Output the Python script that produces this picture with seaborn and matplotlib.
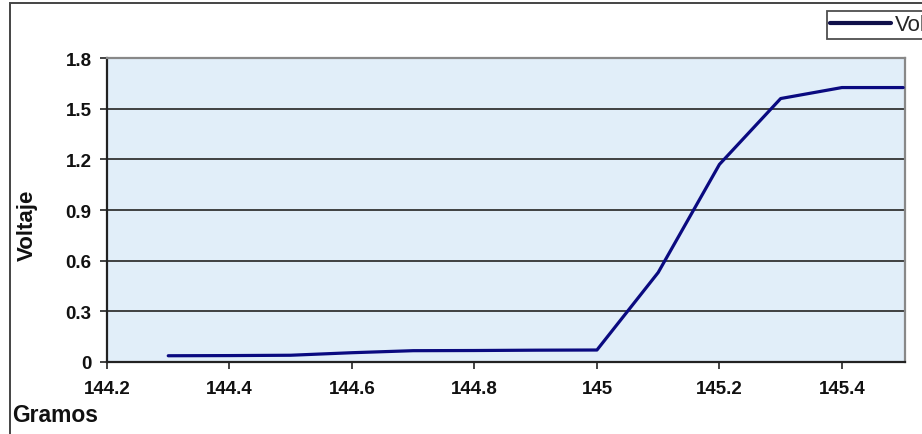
import matplotlib
matplotlib.use("Agg")
import matplotlib.pyplot as plt
from matplotlib.patches import Rectangle
from matplotlib.ticker import FuncFormatter
import seaborn as sns
import pandas as pd

# Measurements: mass (g) vs. sensor voltage (V)
gramos = [144.3, 144.4, 144.5, 144.6, 144.7, 144.8, 144.9, 145.0, 145.1, 145.2, 145.3, 145.4, 145.5]
voltaje = [0.037, 0.038, 0.040, 0.055, 0.067, 0.068, 0.070, 0.071, 0.53, 1.17, 1.56, 1.625, 1.625]

x_ticks = [144.2, 144.4, 144.6, 144.8, 145.0, 145.2, 145.4]
y_ticks = [0, 0.3, 0.6, 0.9, 1.2, 1.5, 1.8]
series_name = "Voltaje"

df = pd.DataFrame({"Gramos": gramos, "Voltaje": voltaje})

sns.set_style("white")
plt.rcParams["font.family"] = ["Liberation Sans", "DejaVu Sans"]

W, H = 922, 435
fig = plt.figure(figsize=(W / 100, H / 100), dpi=100)
fig.patch.set_facecolor("white")

# Outer chart frame (extends past the right and bottom edges)
fig.patches.append(Rectangle((10 / W, -0.05), 1.1, 1 - 4 / H + 0.05,
                             transform=fig.transFigure, fill=False,
                             edgecolor="#444444", linewidth=1.4, zorder=0))

ax = fig.add_axes([107 / W, 1 - 363 / H, (905 - 107) / W, (363 - 59) / H])
ax.set_facecolor("#e1eef9")

sns.lineplot(data=df, x="Gramos", y="Voltaje", ax=ax, color="#0a0a80",
             linewidth=2.3, label=series_name, zorder=3)

ax.set_xlim(144.2, 145.503)
ax.set_ylim(0, 1.8)
ax.set_xticks(x_ticks)
ax.set_yticks(y_ticks)
fmt = FuncFormatter(lambda v, p: f"{v:g}")
ax.xaxis.set_major_formatter(fmt)
ax.yaxis.set_major_formatter(fmt)

for lbl in ax.get_xticklabels() + ax.get_yticklabels():
    lbl.set_fontweight("bold")
    lbl.set_fontsize(13.5)
    lbl.set_color("#111111")

ax.tick_params(axis="both", which="both", direction="out", length=5,
               width=1.2, color="#222222", bottom=True, left=True)
ax.tick_params(axis="x", pad=8)
ax.tick_params(axis="y", pad=6)

ax.yaxis.grid(True, color="#333333", linewidth=1.3)
ax.xaxis.grid(False)
ax.set_axisbelow(True)

for side in ("left", "bottom"):
    ax.spines[side].set_color("#222222")
    ax.spines[side].set_linewidth(1.6)
for side in ("top", "right"):
    ax.spines[side].set_color("#888888")
    ax.spines[side].set_linewidth(1.6)

ax.set_xlabel("")
ax.set_ylabel("")
fig.text(27 / W, 1 - 225 / H, "Voltaje", rotation=90, ha="center", va="center",
         fontsize=16, fontweight="bold", color="#111111")
fig.text(12 / W, 1 - 422 / H, "Gramos", ha="left", va="baseline",
         fontsize=16.5, fontweight="bold", color="#111111")

# Legend box, partly beyond the right edge
ax.get_legend().remove()
leg = fig.legend(loc="upper left", bbox_to_anchor=(827 / W, 1 - 12 / H),
                 frameon=True, fancybox=False, fontsize=16,
                 handlelength=2.75, handletextpad=0.15, borderpad=0.15,
                 borderaxespad=0)
leg.get_frame().set_edgecolor("#222222")
leg.get_frame().set_linewidth(1.3)
for h in leg.get_lines():
    h.set_linewidth(3)
    h.set_color("#10104a")

fig.savefig("out.png", dpi=100)
